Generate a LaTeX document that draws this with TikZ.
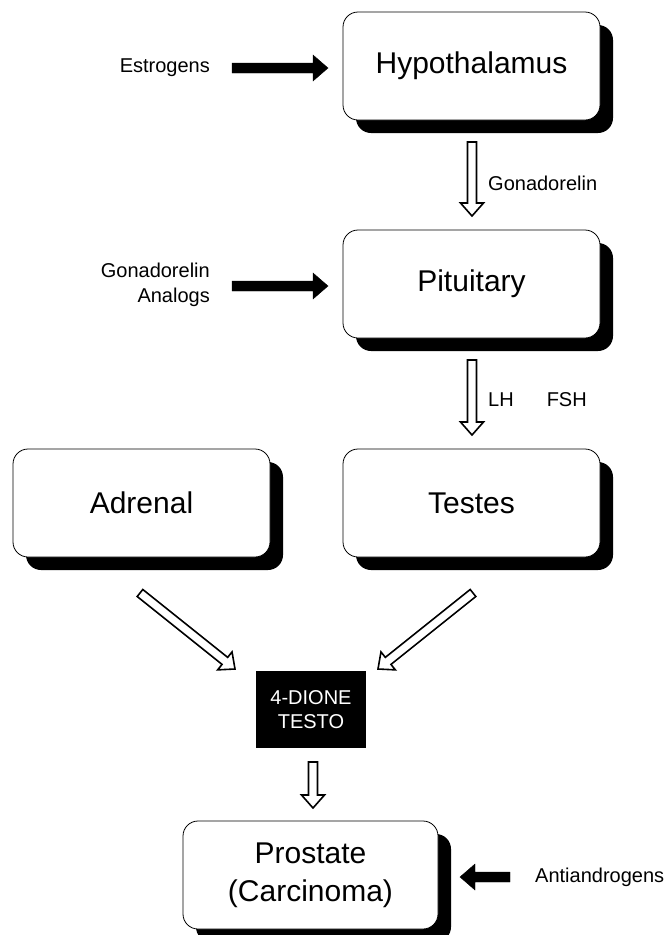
\documentclass[tikz,border=0pt]{standalone}
\usepackage{fontspec}
\setmainfont{Liberation Sans}
\usetikzlibrary{calc,positioning,shadows}

% block arrow between two named coordinates:
% #1 style, #2 tail, #3 tip, #4 half shaft, #5 half head, #6 head length
\newcommand{\blockarrow}[6]{%
  \path ($(#3)!#6!(#2)$) coordinate (hb);
  \draw[#1] ($(#2)!#4!90:(#3)$) -- ($(hb)!#4!90:(#3)$) -- ($(hb)!#5!90:(#3)$)
    -- (#3) -- ($(hb)!#5!-90:(#3)$) -- ($(hb)!#4!-90:(#3)$)
    -- ($(#2)!#4!-90:(#3)$) -- cycle;}

\tikzset{
  organ/.style={draw, fill=white, line width=0.8pt, rounded corners=15pt,
    minimum width=257pt, minimum height=108pt, align=center,
    font=\fontsize{30}{38}\selectfont,
    drop shadow={opacity=1, fill=black, shadow xshift=13pt, shadow yshift=-13pt}},
  drug/.style={font=\fontsize{20}{25}\selectfont, inner sep=0pt},
  hollow/.style={draw=black, fill=white, line width=1.6pt, line join=miter},
  solid/.style={fill=black}
}

\begin{document}
\begin{tikzpicture}[x=1pt, y=-1pt]
\useasboundingbox (0,0) rectangle (664,935);

% organs
\node[organ] (hyp) at (471.5,66) {Hypothalamus};
\node[organ] (pit) at (471.5,284) {Pituitary};
\node[organ] (tes) at (471.5,503) {Testes};
\node[organ] (adr) at (141.5,503) {Adrenal};
\node[organ, minimum width=255pt] (pro) at (310.5,875) {Prostate\\(Carcinoma)};
\node[fill=black, text=white, minimum width=110pt, minimum height=77pt, align=center,
  font=\fontsize{20}{24}\selectfont] (dione) at (311,709.5) {4-DIONE\\TESTO};

% labels
\node[drug, anchor=east] (estr) at (210,68) {Estrogens};
\node[drug, anchor=east, align=right] (analog) at (210,285) {Gonadorelin\\Analogs};
\node[drug, anchor=west] (gnrh) at (488,183) {Gonadorelin};
\node[drug, anchor=west] (lhfsh) at (488,400) {LH\hspace{33pt}FSH};
\node[drug, anchor=west] (anti) at (535,877) {Antiandrogens};

% arrow ends
\coordinate (e1) at (232,68);   \coordinate (e2) at (328,68);
\coordinate (a1) at (232,286);  \coordinate (a2) at (328,286);
\coordinate (n1) at (510,877);  \coordinate (n2) at (460,877);
\coordinate (h1) at (472,142);  \coordinate (h2) at (472,216);
\coordinate (p1) at (472,360);  \coordinate (p2) at (472,435);
\coordinate (l1) at (140,593);  \coordinate (l2) at (235,669);
\coordinate (r1) at (473,593);  \coordinate (r2) at (378,669);
\coordinate (d1) at (313,762);  \coordinate (d2) at (313,808);

% solid arrows
\blockarrow{solid}{e1}{e2}{5pt}{13pt}{15pt}
\blockarrow{solid}{a1}{a2}{5pt}{13pt}{15pt}
\blockarrow{solid}{n1}{n2}{5pt}{13pt}{15pt}

% hollow arrows
\blockarrow{hollow}{h1}{h2}{4.5pt}{11.5pt}{13pt}
\blockarrow{hollow}{p1}{p2}{4.5pt}{11.5pt}{13pt}
\blockarrow{hollow}{l1}{l2}{4.5pt}{11.5pt}{13pt}
\blockarrow{hollow}{r1}{r2}{4.5pt}{11.5pt}{13pt}
\blockarrow{hollow}{d1}{d2}{4.5pt}{11.5pt}{13pt}
\end{tikzpicture}
\end{document}
